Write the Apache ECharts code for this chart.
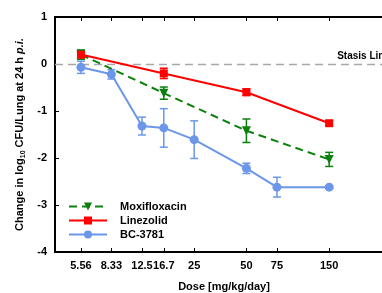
<!DOCTYPE html>
<html><head><meta charset="utf-8">
<script src="https://cdn.jsdelivr.net/npm/echarts@6/dist/echarts.min.js"></script>
<style>html,body{margin:0;padding:0;background:#fff}#c{width:382px;height:293px}</style>
</head><body><div id="c"></div>
<script>
const xTicks = [5.56, 8.33, 12.5, 16.7, 25, 50, 75, 150];
const xTickLabels = ['5.56', '8.33', '12.5', '16.7', '25', '50', '75', '150'];
const yTicks = [-4, -3, -2, -1, 0, 1];

const moxiDose = [5.56, 16.7, 50, 150];
const moxiMean = [0.2, -0.62, -1.42, -2.03];
const moxiErr  = [0.1, 0.13, 0.25, 0.15];

const lineDose = [5.56, 16.7, 50, 150];
const lineMean = [0.2, -0.2, -0.6, -1.26];
const lineErr  = [0.07, 0.11, 0.07, 0.05];

const bcDose = [5.56, 8.33, 12.5, 16.7, 25, 50, 75, 150];
const bcMean = [-0.07, -0.22, -1.32, -1.36, -1.61, -2.22, -2.62, -2.62];
const bcErr  = [0.13, 0.1, 0.19, 0.41, 0.4, 0.11, 0.21, 0.03];

const names = ['Moxifloxacin', 'Linezolid', 'BC-3781'];
const colors = ['#0b800b', '#ff0000', '#6b96ea'];

const FONT = 'Liberation Sans, Arial, sans-serif';
const chart = echarts.init(document.getElementById('c'), null, {renderer: 'canvas'});

function pts(d, m) { return d.map((x, i) => [x, m[i]]); }
function errData(d, m, e) { return d.map((x, i) => [x, m[i] - e[i], m[i] + e[i]]); }
function errSeries(name, d, m, e, color) {
  return {
    type: 'custom', name: name + ' error', xAxisIndex: 0, yAxisIndex: 0, silent: true, z: 3,
    color: color,
    data: errData(d, m, e),
    renderItem: function (params, api) {
      const lo = api.coord([api.value(0), api.value(1)]);
      const hi = api.coord([api.value(0), api.value(2)]);
      const w = 4;
      const st = {stroke: color, lineWidth: 1.5};
      return {type: 'group', children: [
        {type: 'line', shape: {x1: lo[0], y1: lo[1], x2: hi[0], y2: hi[1]}, style: st},
        {type: 'line', shape: {x1: lo[0] - w, y1: lo[1], x2: lo[0] + w, y2: lo[1]}, style: st},
        {type: 'line', shape: {x1: hi[0] - w, y1: hi[1], x2: hi[0] + w, y2: hi[1]}, style: st}
      ]};
    }
  };
}
function nearestLabel(v) {
  let best = 0;
  for (let i = 1; i < xTicks.length; i++) if (Math.abs(xTicks[i] - v) < Math.abs(xTicks[best] - v)) best = i;
  return xTickLabels[best];
}

const xMin = 3.94, xMax = 350;
const axisCommon = {
  type: 'log', logBase: 10, min: xMin, max: xMax,
  axisLine: {show: true, onZero: false, lineStyle: {color: '#000', width: 2}},
  splitLine: {show: false}, minorTick: {show: false}
};

const option = {
  animation: false,
  backgroundColor: '#fff',
  grid: {left: 55, top: 17, height: 235, width: 338, containLabel: false, outerBoundsMode: 'none'},
  legend: {
    orient: 'vertical', left: 68, top: 201, padding: 0, itemWidth: 38, itemHeight: 10, itemGap: 3,
    data: names,
    textStyle: {fontFamily: FONT, fontWeight: 'bold', fontSize: 11, color: '#000', padding: [0, 0, 0, 8]}
  },
  xAxis: [
    Object.assign({}, axisCommon, {
      position: 'bottom',
      name: 'Dose [mg/kg/day]', nameLocation: 'middle', nameGap: 29,
      nameTextStyle: {fontFamily: FONT, fontWeight: 'bold', fontSize: 11, color: '#000'},
      axisTick: {show: true, inside: true, length: 4, customValues: xTicks, lineStyle: {color: '#000', width: 1}},
      axisLabel: {show: true, customValues: xTicks, margin: 8, hideOverlap: false,
        fontFamily: FONT, fontWeight: 'bold', fontSize: 11, color: '#000',
        formatter: function (v) { return nearestLabel(v); }}
    }),
    Object.assign({}, axisCommon, {
      position: 'top',
      axisTick: {show: true, inside: true, length: 4, customValues: xTicks, lineStyle: {color: '#000', width: 1}},
      axisLabel: {show: false}
    })
  ],
  yAxis: {
    type: 'value', min: -4, max: 1, interval: 1,
    axisLine: {show: true, onZero: false, lineStyle: {color: '#000', width: 2}},
    axisTick: {show: true, inside: true, length: 4, lineStyle: {color: '#000', width: 1}},
    splitLine: {show: false},
    axisLabel: {margin: 8, fontFamily: FONT, fontWeight: 'bold', fontSize: 11, color: '#000'},
    name: '{n|Change in log}{s|10}{n| CFU/Lung at 24 h }{i|p.i.}',
    nameLocation: 'middle', nameGap: 28, nameRotate: 90,
    nameTextStyle: {
      rich: {
        n: {fontFamily: FONT, fontWeight: 'bold', fontSize: 11, color: '#000'},
        s: {fontFamily: FONT, fontWeight: 'bold', fontSize: 7, color: '#000', verticalAlign: 'bottom', padding: [5, 0, 0, 0]},
        i: {fontFamily: FONT, fontWeight: 'bold', fontStyle: 'italic', fontSize: 11, color: '#000'}
      }
    }
  },
  series: [
    errSeries(names[2], bcDose, bcMean, bcErr, colors[2]),
    {
      type: 'line', name: names[2], data: pts(bcDose, bcMean), z: 4,
      color: colors[2], symbol: 'circle', symbolSize: 9,
      lineStyle: {color: colors[2], width: 2}, itemStyle: {color: colors[2]},
      markLine: {
        silent: true, symbol: 'none', z: 1,
        lineStyle: {color: '#a8a8a8', type: [8, 5], width: 1.3, opacity: 1},
        emphasis: {disabled: true},
        label: {show: true, position: 'insideEndTop', formatter: 'Stasis Line', distance: 3,
          fontFamily: FONT, fontWeight: 'bold', fontSize: 10, color: '#000'},
        data: [{yAxis: 0}]
      }
    },
    errSeries(names[0], moxiDose, moxiMean, moxiErr, colors[0]),
    {
      type: 'line', name: names[0], data: pts(moxiDose, moxiMean), z: 4,
      color: colors[0], symbol: 'triangle', symbolRotate: 180, symbolSize: 9,
      lineStyle: {color: colors[0], width: 2, type: [8, 5]}, itemStyle: {color: colors[0]}
    },
    errSeries(names[1], lineDose, lineMean, lineErr, colors[1]),
    {
      type: 'line', name: names[1], data: pts(lineDose, lineMean), z: 4,
      color: colors[1], symbol: 'rect', symbolSize: 8,
      lineStyle: {color: colors[1], width: 2}, itemStyle: {color: colors[1]}
    }
  ]
};
chart.setOption(option);
</script></body></html>
